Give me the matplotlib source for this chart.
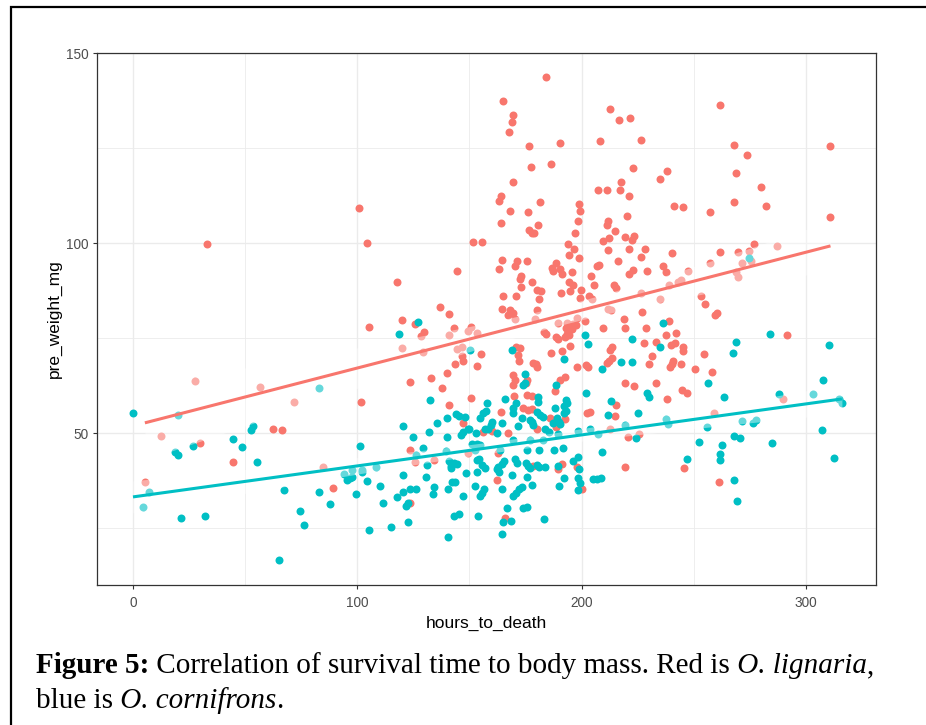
import numpy as np
import matplotlib
matplotlib.use("Agg")
import matplotlib.pyplot as plt
from matplotlib.patches import Rectangle

# ---------------- data ----------------
# O. lignaria (red): (hours_to_death, pre_weight_mg)
lignaria_pts = [
    (32.8,99.8),(100.9,109.2),(104.5,100.1),(117.6,89.9),(144.6,92.8),
    (184.0,143.7),(165.0,137.4),(169.4,133.9),(169.0,131.8),(167.6,129.3),(176.4,125.7),(190.5,126.5),
    (212.7,135.3),(216.5,132.5),(221.6,133.0),(208.2,126.8),(226.3,127.3),(261.7,136.3),(268.0,126.0),
    (274.0,123.3),(310.7,125.7),(186.2,121.0),(177.3,120.0),(222.8,119.7),(238.2,118.9),(235.1,117.0),
    (268.7,118.6),(217.6,116.2),(169.4,116.2),(207.3,114.1),(211.3,114.1),(217.1,113.9),(221.0,112.4),
    (279.8,114.9),(163.9,112.5),(163.2,111.2),(199.0,110.3),(199.4,108.4),(181.3,110.8),(168.1,108.4),
    (176.0,108.2),(267.8,110.8),(282.4,109.7),(241.3,109.7),(245.2,109.5),(257.5,108.2),(310.7,106.8),
    (220.1,107.1),(198.5,105.9),(164.1,105.3),(180.4,104.8),(176.4,103.6),(177.7,102.8),(179.0,102.8),
    (211.8,105.9),(211.3,104.7),(214.9,103.2),(197.2,102.8),(219.3,101.7),(223.4,102.0),(222.5,100.9),
    (212.2,101.4),(209.5,100.7),(151.7,100.2),(155.7,100.2),(193.9,99.7),(196.6,98.6),(211.8,98.1),
    (221.0,98.6),(228.1,98.6),(277.0,99.7),(261.7,97.8),(269.6,97.8),(240.4,97.3),(194.5,97.0),
    (199.0,96.0),(226.3,96.5),(164.5,95.7),(171.1,95.2),(170.2,94.1),(175.5,95.2),(163.2,93.3),
    (216.2,95.2),(188.4,94.7),(186.7,93.6),(187.1,92.6),(190.5,93.3),(191.4,92.0),(195.9,92.3),
    (207.8,94.4),(207.0,93.9),(222.9,92.9),(221.1,91.8),(229.0,92.8),(236.4,93.9),(237.8,92.3),
    (204.2,91.5),(205.7,89.1),(214.4,89.1),(215.3,88.3),(173.1,91.5),(172.7,90.7),(178.0,89.7),
    (173.1,88.4),(194.5,89.7),(196.3,89.1),(199.9,87.8),(180.0,87.6),(181.8,87.3),(190.9,87.0),
    (195.0,87.3),(165.0,86.0),(170.6,86.2),(181.1,85.4),(199.4,85.7),(203.3,86.0),(253.2,86.0),
    (287.1,99.3),(274.8,97.9),(275.4,95.4),(271.6,94.9),(257.2,94.7),(269.6,91.1),(268.7,92.3),
    (247.6,92.8),(244.3,90.2),(243.0,89.7),(239.1,89.1),(235.1,85.4),(226.6,86.8),(204.6,85.4),
    (137.0,83.2),(141.0,81.3),(119.9,79.7),(125.6,78.7),(143.3,77.7),(129.9,76.6),(128.6,75.6),
    (141.0,75.9),(150.6,78.0),(149.4,76.8),(153.5,76.4),(119.9,72.4),(129.4,71.4),(144.6,72.2),
    (146.5,72.6),(155.1,70.9),(146.7,70.4),(147.3,69.0),(143.7,68.2),(153.2,67.8),
    (123.4,63.5),(132.7,64.4),(140.1,65.9),(137.9,61.8),(140.7,57.4),(150.8,59.2),(147.3,52.6),
    (155.9,50.3),(123.4,45.6),(125.6,42.4),(134.3,42.9),(149.4,44.7),(123.4,31.5),
    (105.2,77.9),(101.8,58.3),(62.6,51.1),(66.4,50.8),(29.7,47.4),(44.4,42.4),(5.3,37.2),(89.3,35.6),
    (27.6,63.6),(56.8,62.2),(71.6,58.3),(12.5,49.2),(84.7,41.0),
    (164.4,82.8),(168.1,82.4),(169.3,81.5),(167.3,81.1),(180.0,82.4),(170.2,80.0),(179.1,80.0),
    (189.6,78.9),(198.1,80.3),(201.5,79.6),(193.5,78.9),(194.8,78.4),(196.3,78.7),(193.0,77.6),
    (194.1,77.1),(195.6,77.3),(193.6,76.2),(194.5,75.8),(192.6,75.3),(197.5,78.6),(183.2,76.7),
    (184.0,76.2),(188.4,75.3),(189.3,74.7),(194.8,72.9),(191.3,71.6),(186.5,71.0),(171.0,72.7),
    (172.5,72.3),(171.5,70.5),(172.0,69.0),(178.5,68.5),(179.5,68.2),(180.0,67.3),(202.2,67.9),
    (203.1,67.3),(198.1,67.4),
    (169.5,65.3),(170.3,64.1),(169.3,62.6),(175.2,63.2),(175.8,63.9),(190.4,63.9),(192.7,64.7),
    (188.1,61.1),(169.9,59.7),(175.8,60.0),(178.0,59.7),(174.0,56.5),(176.2,56.2),(178.0,56.4),
    (164.1,55.6),(185.9,54.1),(192.6,53.6),(202.3,55.3),(203.7,55.5),(160.2,50.5),(180.0,51.0),
    (188.6,51.7),(167.3,49.9),(162.6,44.8),(178.2,41.3),(191.5,41.8),(189.6,40.5),(197.8,41.0),
    (162.4,37.6),(200.3,35.3),(165.8,27.6),
    (255.1,84.1),(211.8,82.8),(213.0,82.4),(227.1,81.8),(219.0,80.0),(209.7,77.8),(219.6,77.7),
    (228.6,77.8),(239.1,79.6),(237.6,75.9),(242.2,76.4),(228.0,73.6),(233.2,74.0),(239.9,73.2),
    (241.8,73.6),(245.1,72.7),(245.3,71.6),(213.4,72.7),(212.7,71.8),(231.5,70.3),(254.6,70.8),
    (213.4,69.7),(211.5,68.5),(212.4,69.0),(229.9,68.3),(240.2,68.3),(239.4,67.3),(240.9,69.0),
    (244.2,68.3),(250.6,66.8),
    (219.3,63.3),(223.5,62.4),(233.2,63.3),(244.9,61.3),(247.1,60.6),(237.9,58.9),(215.3,57.4),
    (214.9,54.5),(220.5,49.0),(225.7,49.7),(219.6,41.1),(245.6,40.9),(212.7,51.2),
    (259.6,81.1),(260.5,81.5),(291.7,75.8),(289.8,59.1),(259.0,55.4),(261.3,37.2),(258.0,66.1),
]

# O. cornifrons (blue/teal): (hours_to_death, pre_weight_mg)
cornifrons_pts = [
    (274.5,96.2),(127.1,79.2),(118.6,76.1),(150.2,71.8),
    (0.0,55.2),(20.2,54.9),(83.1,62.0),(53.4,51.8),(52.5,50.7),(44.7,48.4),(48.7,46.4),(26.6,46.6),
    (18.6,45.0),(20.2,44.2),(55.3,42.4),(7.3,34.6),(4.6,30.6),(21.4,27.6),(32.1,28.2),(67.3,34.9),
    (74.5,29.4),(76.1,25.7),(65.2,16.6),(83.1,34.6),(88.0,31.2),(93.9,39.1),(95.4,37.6),(96.7,38.1),
    (97.8,38.5),(97.8,40.4),(102.2,40.4),(102.2,39.7),(99.3,33.9),(101.3,46.6),(104.5,37.4),
    (105.2,24.4),(108.3,41.0),(110.1,36.1),
    (132.3,58.6),(144.0,55.1),(145.5,54.6),(147.9,54.3),(140.1,54.1),(135.7,52.6),(120.2,51.8),
    (131.8,50.4),(124.7,48.9),(140.1,49.1),(146.2,49.5),(147.3,50.3),(149.2,51.1),(149.8,51.1),
    (152.8,50.1),(154.7,54.1),(156.2,55.3),(157.2,55.8),(157.9,57.8),(156.9,51.0),(158.1,51.0),
    (129.4,46.1),(126.0,44.2),(139.4,45.2),(151.3,47.1),(153.2,47.1),(154.7,46.8),(152.5,45.5),
    (154.1,43.2),(153.5,42.9),(155.6,41.5),(156.8,40.7),(130.9,41.6),(140.9,42.6),(141.8,41.4),
    (143.1,42.2),(144.3,41.8),(141.6,40.9),(130.5,38.5),(120.5,38.9),(148.6,39.6),(153.4,39.8),
    (117.6,33.2),(120.2,34.4),(123.5,35.4),(126.0,35.4),(134.2,35.7),(133.9,33.9),(140.6,35.3),
    (142.1,37.0),(143.6,37.2),(147.3,33.5),(152.5,36.2),(154.7,33.4),(155.5,34.3),(156.5,35.2),
    (111.6,31.5),(121.7,30.9),(122.5,31.5),(143.1,28.1),(145.5,28.6),(153.8,28.3),(115.0,25.4),
    (122.5,26.5),(140.6,22.6),
    (169.0,71.8),(201.5,75.9),(202.7,73.5),(192.2,69.4),
    (174.8,65.5),(173.7,62.6),(174.6,63.2),(188.8,62.6),(180.7,59.6),(180.7,58.1),(165.8,58.9),
    (170.9,57.8),(193.0,58.7),(193.3,57.8),(192.2,57.1),(188.3,56.5),(202.0,60.6),(169.3,56.5),
    (169.3,55.2),(180.2,55.6),(181.4,54.7),(182.9,54.3),(173.3,53.9),(177.0,53.4),(178.0,52.8),
    (178.5,52.1),(164.6,52.7),(160.3,52.8),(159.6,52.1),(188.9,53.9),(189.9,53.0),(187.1,52.6),
    (190.6,52.3),(171.8,52.0),(183.7,51.0),(185.3,50.4),(162.3,49.9),(192.9,55.8),(192.2,55.3),
    (189.6,49.7),(169.5,48.2),(177.0,48.2),(182.9,48.2),(198.5,50.5),(203.7,51.2),(207.4,49.7),
    (163.6,45.5),(175.9,45.5),(181.1,45.5),(187.8,45.5),(191.8,46.1),(170.4,43.3),(171.3,42.2),
    (165.4,42.7),(164.4,41.8),(162.9,41.1),(162.1,40.5),(175.2,42.2),(176.2,41.3),(177.0,40.7),
    (180.0,41.6),(181.1,41.1),(183.7,41.1),(189.3,41.3),(196.3,42.7),(198.5,43.6),(199.0,40.5),
    (163.0,39.7),(168.8,38.9),(175.5,38.5),(192.3,38.3),(198.5,38.3),(199.3,36.9),(198.5,35.0),
    (204.9,38.0),(207.0,38.0),(178.0,36.3),(190.0,36.1),(164.6,35.2),(173.6,35.9),(172.3,35.2),
    (170.8,34.3),(169.5,33.4),(174.0,30.4),(175.5,30.6),(166.6,30.2),(164.8,26.5),(168.5,26.9),
    (183.4,27.3),(164.5,23.5),
    (236.4,78.9),(222.6,74.8),(235.1,72.7),(217.6,68.8),(222.6,68.8),(209.0,66.8),
    (213.1,58.4),(229.4,60.6),(229.9,59.6),(211.8,54.7),(225.0,55.3),(224.1,48.6),(209.0,45.1),
    (208.5,38.1),(252.3,47.7),(246.9,43.3),(256.0,51.7),(256.5,63.3),(219.6,52.1),(237.5,53.6),
    (238.4,52.4),
    (284.1,76.1),(310.3,73.2),(268.7,74.0),(267.5,71.1),(263.5,59.4),(288.0,60.4),(307.6,64.1),
    (303.2,60.4),(314.8,58.9),(316.1,57.8),(271.6,53.2),(276.4,52.6),(277.6,53.4),(262.6,46.8),
    (268.2,49.2),(270.8,48.8),(285.0,47.4),(307.2,50.8),(261.6,44.4),(261.6,42.9),(312.4,43.5),
    (267.9,37.7),(269.4,32.0),
]

# linear fits (endpoints of each regression line)
lignaria_fit_hours = [5.3, 311.0]
lignaria_fit_mass = [52.7, 99.3]
cornifrons_fit_hours = [0.0, 316.1]
cornifrons_fit_mass = [33.2, 59.0]

x_ticks = [0, 100, 200, 300]
y_ticks = [50, 100, 150]
x_label = "hours_to_death"
y_label = "pre_weight_mg"

RED = "#F8766D"
TEAL = "#00BFC4"

# ---------------- figure ----------------
fig = plt.figure(figsize=(9.26, 7.25), dpi=100)
fig.patch.set_facecolor("white")
ax = fig.add_axes([97/926, 1-585/725, (876-97)/926, (585-53)/725])

series = [
    (lignaria_pts, lignaria_fit_hours, lignaria_fit_mass, RED),
    (cornifrons_pts, cornifrons_fit_hours, cornifrons_fit_mass, TEAL),
]

for pts, _, _, col in series:
    hx, my = zip(*pts)
    ax.scatter(hx, my, s=33, color=col, linewidths=0, zorder=3)

for pts, fx, fy, col in series:
    hx, my = map(np.asarray, zip(*pts))
    n = len(hx)
    xs = np.linspace(fx[0], fx[-1], 120)
    yhat = np.interp(xs, fx, fy)
    slope = (fy[1] - fy[0]) / (fx[1] - fx[0])
    resid = my - (fy[0] + slope * (hx - fx[0]))
    s = np.sqrt(np.sum(resid**2) / (n - 2))
    sxx = np.sum((hx - hx.mean())**2)
    se = s * np.sqrt(1.0/n + (xs - hx.mean())**2 / sxx)
    ax.fill_between(xs, yhat - 1.97*se, yhat + 1.97*se, color="white", alpha=0.4,
                    linewidth=0, zorder=4)
    ax.plot(fx, fy, color=col, lw=2.2, zorder=5, solid_capstyle="butt")

ax.set_xlim(-16.05, 331.3)
ax.set_ylim(10.0, 150.1)
ax.set_xticks(x_ticks)
ax.set_yticks(y_ticks)
ax.set_xticks([50, 150, 250], minor=True)
ax.set_yticks([25, 75, 125], minor=True)
ax.grid(which="major", color="#EBEBEB", lw=1.0, zorder=0)
ax.grid(which="minor", color="#EBEBEB", lw=0.6, zorder=0)
ax.set_axisbelow(True)
for sp in ax.spines.values():
    sp.set_color("#333333")
    sp.set_linewidth(0.9)
ax.tick_params(which="major", length=3.2, width=0.8, color="#333333",
               labelcolor="#4D4D4D", labelsize=9.8, pad=3)
ax.tick_params(which="minor", length=0)
for lab in ax.get_xticklabels() + ax.get_yticklabels():
    lab.set_family("Liberation Sans")
ax.tick_params(axis="x", pad=5)

ax.set_xlabel(x_label, fontsize=12.5, family="Liberation Sans", color="black", labelpad=4)
ax.set_ylabel(y_label, fontsize=12.5, family="Liberation Sans", color="black", labelpad=2.5)

# frame around figure
fig.add_artist(Rectangle((10.5/926, -0.1), 1.2, 1.1 - 6.5/725, transform=fig.transFigure,
                         fill=False, ec="black", lw=1.6, clip_on=False))

# caption with mixed styles
fig.canvas.draw()
renderer = fig.canvas.get_renderer()
W = fig.bbox.width

def caption_line(pieces, x0, y):
    x = x0
    for txt, weight, style in pieces:
        t = fig.text(x, y, txt, fontsize=21, family="Liberation Serif", fontweight=weight,
                     fontstyle=style, va="baseline", ha="left", color="black")
        bb = t.get_window_extent(renderer)
        x = bb.x1 / W

caption_line([("Figure 5:", "bold", "normal"),
              (" Correlation of survival time to body mass. Red is", "normal", "normal"),
              (" O. lignaria", "normal", "italic"),
              (",", "normal", "normal")], 36/926, 1 - 673/725)
caption_line([("blue is", "normal", "normal"),
              (" O. cornifrons", "normal", "italic"),
              (".", "normal", "normal")], 36/926, 1 - 708/725)

fig.savefig("out.png", dpi=100)
